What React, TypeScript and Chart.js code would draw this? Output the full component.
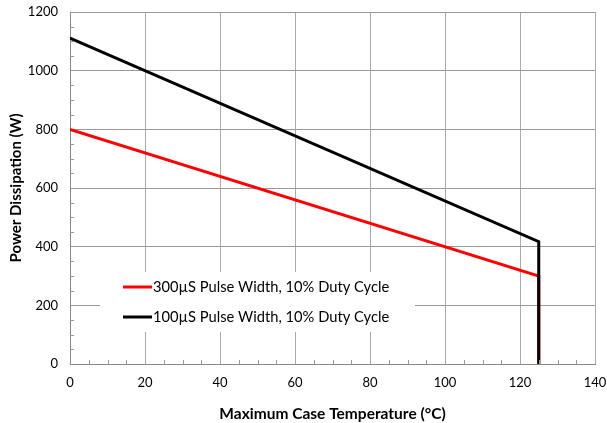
import React, { useEffect, useRef } from "react";
import { Chart, registerables } from "chart.js";

Chart.register(...registerables);

const redLabel = "300µS Pulse Width, 10% Duty Cycle";
const blackLabel = "100µS Pulse Width, 10% Duty Cycle";
const redX = [0, 125, 125];
const redY = [800, 300, 0];
const blackX = [0, 125, 125];
const blackY = [1111, 417, 0];
const xTitle = "Maximum Case Temperature (°C)";
const yTitle = "Power Dissipation (W)";

const FONT = "Lato, 'Open Sans', sans-serif";

const overlayPlugin = {
  id: "overlay",
  afterDatasetsDraw(chart: any) {
    const { ctx, chartArea, scales } = chart;
    const xs = scales.x;
    const ys = scales.y;
    ctx.save();
    // minor ticks
    ctx.strokeStyle = "#999";
    ctx.lineWidth = 1;
    ctx.beginPath();
    for (let v = 50; v < 1200; v += 50) {
      if (v % 200 === 0) continue;
      const py = Math.round(ys.getPixelForValue(v)) + 0.5;
      ctx.moveTo(chartArea.left, py);
      ctx.lineTo(chartArea.left + 4, py);
    }
    for (let v = 5; v < 140; v += 5) {
      if (v % 20 === 0) continue;
      const px = Math.round(xs.getPixelForValue(v)) + 0.5;
      ctx.moveTo(px, chartArea.bottom);
      ctx.lineTo(px, chartArea.bottom - 4);
    }
    ctx.stroke();
    // legend box
    const bx = xs.getPixelForValue(8);
    const bx2 = xs.getPixelForValue(92);
    const by = 272;
    const by2 = 332;
    ctx.fillStyle = "#fff";
    ctx.fillRect(bx, by, bx2 - bx, by2 - by);
    const items = [
      { label: redLabel, color: "#ff0000", y: 287 },
      { label: blackLabel, color: "#000000", y: 317 },
    ];
    ctx.font = "14.7px " + FONT;
    ctx.textBaseline = "middle";
    ctx.textAlign = "left";
    for (const it of items) {
      ctx.strokeStyle = it.color;
      ctx.lineWidth = 3;
      ctx.beginPath();
      ctx.moveTo(123, it.y);
      ctx.lineTo(152, it.y);
      ctx.stroke();
      ctx.fillStyle = "#000";
      ctx.fillText(it.label, 153, it.y);
    }
    ctx.restore();
  },
};

export default function App() {
  const ref = useRef<HTMLCanvasElement | null>(null);
  useEffect(() => {
    document.body.style.margin = "0";
    const canvas = ref.current!;
    const chart = new Chart(canvas, {
      type: "scatter",
      data: {
        datasets: [
          {
            label: blackLabel,
            data: blackX.map((x, i) => ({ x, y: blackY[i] })),
            borderColor: "#000000",
            backgroundColor: "#000000",
            borderWidth: 3,
            showLine: true,
            pointRadius: 0,
            order: 0,
            borderJoinStyle: "miter",
          } as any,
          {
            label: redLabel,
            data: redX.map((x, i) => ({ x, y: redY[i] })),
            borderColor: "#ff0000",
            backgroundColor: "#ff0000",
            borderWidth: 3,
            showLine: true,
            pointRadius: 0,
            order: 1,
            borderJoinStyle: "miter",
          } as any,
        ],
      },
      options: {
        animation: false,
        responsive: false,
        layout: { padding: { top: 0, right: 0, left: 0, bottom: 0 } },
        plugins: {
          legend: { display: false },
          tooltip: { enabled: false },
        },
        scales: {
          x: {
            type: "linear",
            min: 0,
            max: 140,
            ticks: {
              stepSize: 20,
              color: "#000",
              font: { family: FONT, size: 13 },
              padding: 11,
              maxRotation: 0,
            },
            grid: { color: "#aaaaaa", drawTicks: false, lineWidth: 1 },
            border: { color: "#888888", width: 1 },
            title: {
              display: true,
              text: xTitle,
              color: "#000",
              font: { family: FONT, size: 15.5, weight: "bold" },
              padding: { top: 9, bottom: 0 },
            },
            afterFit(scale: any) {
              scale.height = 59;
              scale.paddingRight = 12;
              scale.paddingLeft = 0;
            },
          },
          y: {
            type: "linear",
            min: 0,
            max: 1200,
            ticks: {
              stepSize: 200,
              color: "#000",
              font: { family: FONT, size: 13 },
              padding: 12,
              callback: (v: any) => String(v),
            },
            grid: { color: "#999999", drawTicks: false, lineWidth: 1 },
            border: { color: "#888888", width: 1 },
            title: {
              display: true,
              text: yTitle,
              color: "#000",
              font: { family: FONT, size: 15, weight: "bold" },
              padding: { top: 7, bottom: 0 },
            },
            afterFit(scale: any) {
              scale.width = 70;
              scale.paddingTop = 12;
              scale.paddingBottom = 0;
            },
          },
        },
      },
      plugins: [overlayPlugin],
    });
    return () => chart.destroy();
  }, []);
  return (
    <div style={{ width: 607, height: 423, position: "relative" }}>
      <canvas ref={ref} width={607} height={423} style={{ display: "block" }} />
    </div>
  );
}
